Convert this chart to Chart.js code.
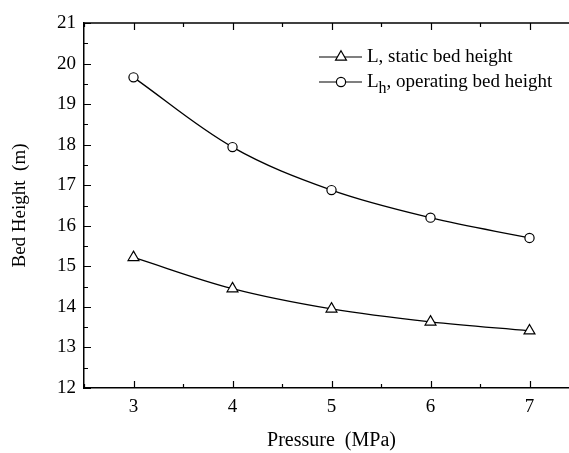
<!doctype html>
<html>
<head>
<script src="https://cdn.jsdelivr.net/npm/chart.js"></script>
<style>
    html, body { margin: 0; padding: 0; overflow: hidden; background: #fff; }
    #wrap { width: 600px; height: 453px; }
</style>
</head>
<body>
<div id="wrap"><canvas id="bedChart" width="600" height="453"></canvas></div>
<script>
    // values
    const pressure = [3, 4, 5, 6, 7];
    const staticHeight = [15.22, 14.45, 13.95, 13.63, 13.41];
    const operatingHeight = [19.66, 17.94, 16.88, 16.2, 15.7];
    const xTicks = [3, 4, 5, 6, 7];
    const yTicks = [12, 13, 14, 15, 16, 17, 18, 19, 20, 21];
    const seriesNames = ["L, static bed height", "L_h, operating bed height"];
    const seriesStyles = ["triangle", "circle"];

    const FONT = "'Liberation Serif', 'Times New Roman', serif";

    // inward tick marks + top frame, drawn from the scales
    const frameTicks = {
        id: "frameTicks",
        afterDatasetsDraw(chart) {
            const { ctx, chartArea: a, scales } = chart;
            const x = scales.x, y = scales.y;
            ctx.save();
            ctx.strokeStyle = "#000";
            ctx.lineWidth = 1.5;
            ctx.beginPath();
            ctx.moveTo(a.left, a.top);
            ctx.lineTo(a.right, a.top);
            ctx.stroke();
            ctx.lineWidth = 1.2;
            ctx.beginPath();
            for (let v = x.min; v <= x.max + 1e-9; v += 0.5) {
                const px = Math.round(x.getPixelForValue(v)) + 0.5;
                const len = xTicks.includes(v) ? 7 : 4;
                ctx.moveTo(px, a.bottom);
                ctx.lineTo(px, a.bottom - len);
                ctx.moveTo(px, a.top);
                ctx.lineTo(px, a.top + len);
            }
            for (let v = y.min; v <= y.max + 1e-9; v += 0.5) {
                const py = Math.round(y.getPixelForValue(v)) + 0.5;
                const len = yTicks.includes(v) ? 7 : 4;
                ctx.moveTo(a.left, py);
                ctx.lineTo(a.left + len, py);
            }
            ctx.stroke();
            ctx.restore();
        },
        afterDraw(chart) {
            // legend with subscript support
            const ctx = chart.ctx;
            ctx.save();
            chart.data.datasets.forEach((ds, i) => {
                const rowY = 57 + i * 25;
                ctx.strokeStyle = "#000";
                ctx.lineWidth = 1.2;
                ctx.beginPath();
                ctx.moveTo(319, rowY);
                ctx.lineTo(362, rowY);
                ctx.stroke();
                ctx.fillStyle = "#fff";
                Chart.helpers.drawPoint(ctx, {
                    pointStyle: ds.pointStyle,
                    radius: ds.pointRadius,
                    rotation: 0,
                    borderWidth: 1.2
                }, 341, rowY);
                ctx.fillStyle = "#000";
                ctx.textBaseline = "middle";
                ctx.textAlign = "left";
                let tx = 367;
                const parts = ds.label.split(/_(\w)/);
                parts.forEach((p, k) => {
                    if (k % 2 === 1) {
                        ctx.font = "16px " + FONT;
                        ctx.fillText(p, tx, rowY + 7);
                    } else {
                        ctx.font = "19px " + FONT;
                        ctx.fillText(p, tx, rowY);
                    }
                    tx += ctx.measureText(p).width;
                });
            });
            ctx.restore();
        }
    };

    const makeSet = (i, values) => ({
        label: seriesNames[i],
        data: pressure.map((p, k) => ({ x: p, y: values[k] })),
        borderColor: "#000",
        borderWidth: 1.3,
        backgroundColor: "#fff",
        pointStyle: seriesStyles[i],
        pointRadius: seriesStyles[i] === "triangle" ? 6.3 : 4.6,
        pointBorderWidth: 1.2,
        pointBorderColor: "#000",
        pointBackgroundColor: "#fff",
        tension: 0.35,
        fill: false
    });

    new Chart(document.getElementById("bedChart"), {
        type: "line",
        data: {
            datasets: [makeSet(0, staticHeight), makeSet(1, operatingHeight)]
        },
        options: {
            responsive: false,
            animation: false,
            layout: { padding: { top: 23, right: 21, left: 0, bottom: 0 } },
            plugins: { legend: { display: false }, tooltip: { enabled: false } },
            scales: {
                x: {
                    type: "linear",
                    min: 2.5,
                    max: 7.5,
                    afterBuildTicks: (s) => { s.ticks = xTicks.map((v) => ({ value: v })); },
                    afterFit: (s) => { s.height = 65; },
                    grid: { drawOnChartArea: false, drawTicks: false },
                    border: { color: "#000", width: 1.5 },
                    ticks: { color: "#000", padding: 8, font: { family: FONT, size: 19 } },
                    title: {
                        display: true,
                        text: "Pressure  (MPa)",
                        color: "#000",
                        font: { family: FONT, size: 20 },
                        padding: { top: 0, bottom: 0 }
                    }
                },
                y: {
                    min: 12,
                    max: 21,
                    afterBuildTicks: (s) => { s.ticks = yTicks.map((v) => ({ value: v })); },
                    afterFit: (s) => { s.width = 84; },
                    grid: { drawOnChartArea: false, drawTicks: false },
                    border: { color: "#000", width: 1.5 },
                    ticks: { color: "#000", padding: 8, font: { family: FONT, size: 19 } },
                    title: {
                        display: true,
                        text: "Bed Height  (m)",
                        color: "#000",
                        font: { family: FONT, size: 19 },
                        padding: { top: 9, bottom: 0 }
                    }
                }
            }
        },
        plugins: [frameTicks]
    });
</script>
</body>
</html>
